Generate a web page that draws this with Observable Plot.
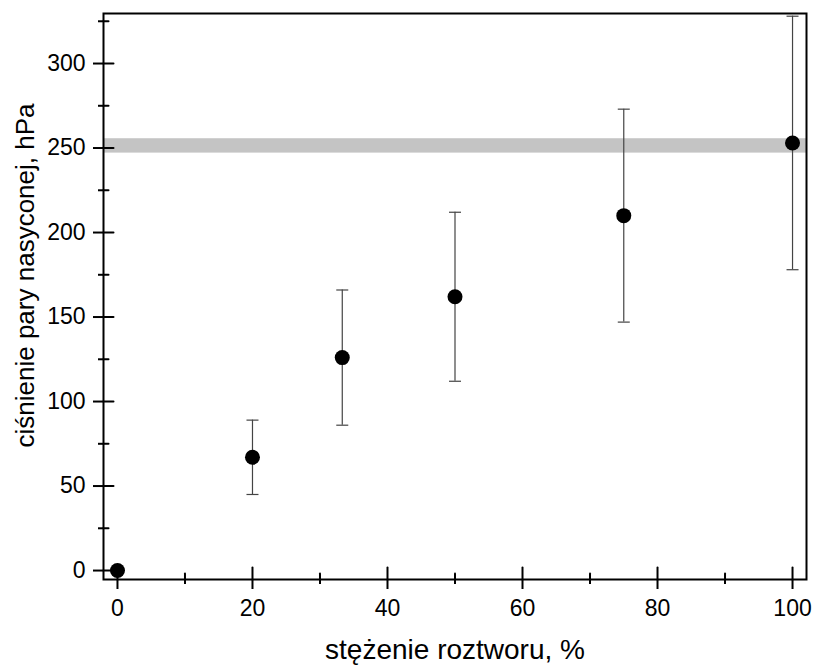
<!DOCTYPE html>
<html>
<head>
<meta charset="utf-8">
<script src="https://cdn.jsdelivr.net/npm/d3@7"></script>
<script src="https://cdn.jsdelivr.net/npm/@observablehq/plot@0.6"></script>
<style>
  html, body { margin: 0; padding: 0; background: #fff; }
</style>
</head>
<body>
<div id="chart"></div>
<script>
// Data
const concentration = [0, 20, 33.3, 50, 75, 100];          // %
const pressure      = [0, 67, 126, 162, 210, 253];         // hPa
const errLow        = [null, 45, 86, 112, 147, 178];
const errHigh       = [null, 89, 166, 212, 273, 328];
const bandLow  = [247];
const bandHigh = [255.5];

const xMajor = [0, 20, 40, 60, 80, 100];
const xMinor = [10, 30, 50, 70, 90];
const yMajor = [0, 50, 100, 150, 200, 250, 300];
const yMinor = [25, 75, 125, 175, 225, 275, 325];

const xLabel = "stężenie roztworu, %";
const yLabel = "ciśnienie pary nasyconej, hPa";

const points = concentration.map((c, i) => ({c, p: pressure[i], lo: errLow[i], hi: errHigh[i]}));
const bars = points.filter(d => d.lo != null);
const band = bandLow.map((lo, i) => ({lo, hi: bandHigh[i]}));

const tickShape = {draw(ctx, l) { ctx.moveTo(0, 0); ctx.lineTo(0, -l); }};
const capSymbol = {draw(ctx) { ctx.moveTo(-6, 0); ctx.lineTo(6, 0); }};

const chart = Plot.plot({
  width: 814,
  height: 666,
  marginLeft: 103,
  marginRight: 8,
  marginTop: 13,
  marginBottom: 87,
  style: {fontFamily: "'Liberation Sans', Arial, sans-serif", color: "black", background: "white"},
  x: {domain: [-2.07, 102.07]},
  y: {domain: [-5.3, 329.6]},
  marks: [
    Plot.rectY(band, {y1: "lo", y2: "hi", fill: "#c4c4c4"}),
    Plot.ruleX(bars, {x: "c", y1: "lo", y2: "hi", stroke: "#444", strokeWidth: 1.2}),
    Plot.dot(bars, {x: "c", y: "lo", symbol: capSymbol, stroke: "#444", strokeWidth: 1.2, fill: "none", r: 6}),
    Plot.dot(bars, {x: "c", y: "hi", symbol: capSymbol, stroke: "#444", strokeWidth: 1.2, fill: "none", r: 6}),
    Plot.dot(points, {x: "c", y: "p", r: 7.5, fill: "black", stroke: "none"}),
    Plot.frame({stroke: "black", strokeWidth: 2}),
    // outward ticks + labels
    Plot.axisY({ticks: yMajor, tickSize: 10, tickPadding: 8, fontSize: 23, strokeWidth: 2, label: null}),
    Plot.axisY({ticks: yMinor, tickSize: 5, text: null, strokeWidth: 2, label: null}),
    Plot.axisX({ticks: xMajor, tickSize: 10, tickPadding: 10, fontSize: 23, strokeWidth: 2, label: null}),
    Plot.axisX({ticks: xMinor, tickSize: 5, text: null, strokeWidth: 2, label: null}),
    // inward ticks
    Plot.vector(yMajor, {y: d => d, frameAnchor: "left", rotate: 90, length: 10, anchor: "start", shape: tickShape, stroke: "black", strokeWidth: 2}),
    Plot.vector(yMinor, {y: d => d, frameAnchor: "left", rotate: 90, length: 5, anchor: "start", shape: tickShape, stroke: "black", strokeWidth: 2}),
    Plot.vector(xMajor, {x: d => d, frameAnchor: "bottom", rotate: 0, length: 12, anchor: "start", shape: tickShape, stroke: "black", strokeWidth: 2}),
    Plot.vector(xMinor, {x: d => d, frameAnchor: "bottom", rotate: 0, length: 6, anchor: "start", shape: tickShape, stroke: "black", strokeWidth: 2}),
    // axis titles
    Plot.text([xLabel], {text: d => d, frameAnchor: "bottom", textAnchor: "middle", lineAnchor: "middle", dx: 0, dy: 71, fontSize: 28}),
    Plot.text([yLabel], {text: d => d, frameAnchor: "left", textAnchor: "middle", lineAnchor: "middle", rotate: -90, dx: -78, dy: -21, fontSize: 26})
  ]
});
document.getElementById("chart").appendChild(chart);
</script>
</body>
</html>
